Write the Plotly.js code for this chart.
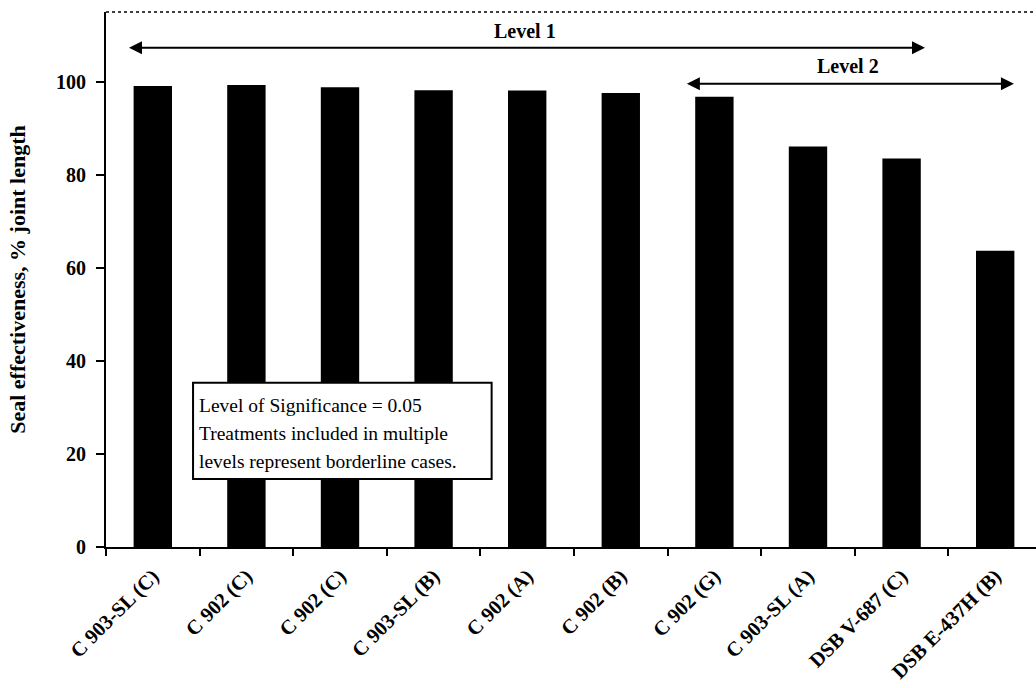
<!DOCTYPE html>
<html>
<head>
<meta charset="utf-8">
<script src="https://cdn.plot.ly/plotly-3.0.1.min.js"></script>
<style>html,body{margin:0;padding:0;background:#fff;}#chart{width:1036px;height:688px;}</style>
</head>
<body>
<div id="chart"></div>
<script>
var categories = ["C 903-SL (C)", "C 902 (C)", "C 902 (C)#2", "C 903-SL (B)", "C 902 (A)", "C 902 (B)", "C 902 (G)", "C 903-SL (A)", "DSB V-687 (C)", "DSB E-437H (B)"];
var tickLabels = ["C 903-SL (C)", "C 902 (C)", "C 902 (C)", "C 903-SL (B)", "C 902 (A)", "C 902 (B)", "C 902 (G)", "C 903-SL (A)", "DSB V-687 (C)", "DSB E-437H (B)"];
var sealEffectiveness = [99.1, 99.3, 98.8, 98.2, 98.1, 97.6, 96.8, 86.1, 83.5, 63.7];
var yTicks = [0, 20, 40, 60, 80, 100];
var noteLines = ["Level of Significance = 0.05", "Treatments included in multiple", "levels represent borderline cases."];

var serif = "Liberation Serif, Times New Roman, serif";

var trace = {
  type: "bar",
  x: categories,
  y: sealEffectiveness,
  marker: {color: "#000000", line: {width: 0}},
  hoverinfo: "skip"
};

var annotations = [
  {x: 8.25, y: 107.3, ax: -0.27, ay: 107.3, xref: "x", yref: "y", axref: "x", ayref: "y",
   text: "", showarrow: true, arrowhead: 2, arrowside: "end+start", arrowsize: 1.3, arrowwidth: 2, arrowcolor: "#000"},
  {x: 3.98, y: 110.9, xref: "x", yref: "y", text: "Level 1", showarrow: false,
   font: {family: serif, size: 20, color: "#000", weight: "bold"}},
  {x: 9.2, y: 99.6, ax: 5.69, ay: 99.6, xref: "x", yref: "y", axref: "x", ayref: "y",
   text: "", showarrow: true, arrowhead: 2, arrowside: "end+start", arrowsize: 1.3, arrowwidth: 2, arrowcolor: "#000"},
  {x: 7.43, y: 103.3, xref: "x", yref: "y", text: "Level 2", showarrow: false,
   font: {family: serif, size: 20, color: "#000", weight: "bold"}}
];
var noteY = [30.5, 24.4, 18.3];
noteLines.forEach(function(t, i){
  annotations.push({x: 0.47, y: noteY[i], xref: "x", yref: "y", text: t, showarrow: false,
    xanchor: "left", yanchor: "middle", font: {family: serif, size: 19.5, color: "#000"}});
});

var layout = {
  width: 1036, height: 688,
  margin: {l: 106, r: 0, t: 12, b: 141},
  paper_bgcolor: "#ffffff", plot_bgcolor: "#ffffff",
  showlegend: false,
  bargap: 0.59,
  xaxis: {
    type: "category",
    range: [-0.5, 9.436],
    tickmode: "array", tickvals: categories, ticktext: tickLabels,
    tickangle: -45,
    tickson: "boundaries",
    ticks: "outside", ticklen: 7, tickwidth: 2, tickcolor: "#000",
    ticklabelstandoff: 7,
    showline: true, linecolor: "#000", linewidth: 2,
    showgrid: false, zeroline: false,
    tickfont: {family: serif, size: 20.5, color: "#000", weight: "bold"}
  },
  yaxis: {
    range: [0, 115],
    tickmode: "array", tickvals: yTicks,
    ticks: "outside", ticklen: 8, tickwidth: 2, tickcolor: "#000",
    ticklabelstandoff: 6,
    showline: true, linecolor: "#000", linewidth: 2,
    showgrid: false, zeroline: false,
    tickfont: {family: serif, size: 20, color: "#000", weight: "bold"},
    title: {text: "Seal effectiveness, % joint length", standoff: 24,
            font: {family: serif, size: 22, color: "#000", weight: "bold"}}
  },
  shapes: [
    {type: "line", xref: "paper", yref: "paper", x0: 0, x1: 1, y0: 1, y1: 1,
     line: {color: "#000", width: 1.5, dash: "dot"}},
    {type: "rect", xref: "x", yref: "y", x0: 0.43, x1: 3.62, y0: 14.6, y1: 35.3,
     fillcolor: "#ffffff", line: {color: "#000", width: 2}, layer: "above"}
  ],
  annotations: annotations
};

Plotly.newPlot("chart", [trace], layout, {displayModeBar: false, staticPlot: true});
</script>
</body>
</html>
